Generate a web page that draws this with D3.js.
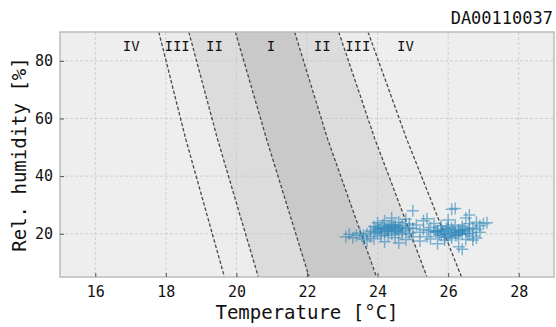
<!DOCTYPE html>
<html>
<head>
<meta charset="utf-8">
<script src="https://cdn.jsdelivr.net/npm/d3@7"></script>
<style>
  body { margin: 0; background: #fff; }
  text { font-family: "DejaVu Sans Mono", monospace; fill: #111; }
</style>
</head>
<body>
<svg width="556" height="327"></svg>
<script>
// comfort zone boundaries: temperature at rh = 90, 53, 5
const boundaryRH = [90, 53, 5];
const boundaries = [
  [17.80, 18.56, 19.66],
  [18.65, 19.46, 20.62],
  [19.97, 20.85, 22.06],
  [21.65, 22.58, 23.97],
  [22.90, 23.92, 25.40],
  [23.73, 24.82, 26.38]
];
const zoneFills = ["#ececec", "#dcdcdc", "#c9c9c9", "#dcdcdc", "#ececec"];
const zoneLabels = ["IV", "III", "II", "I", "II", "III", "IV"];
const zoneLabelX = [17.02, 18.32, 19.38, 20.98, 22.43, 23.44, 24.79];

const xTicks = [16, 18, 20, 22, 24, 26, 28];
const yTicks = [20, 40, 60, 80];

// measured points: temperature and rh
const temps = [
  23.1, 23.2, 23.3, 23.4, 23.5, 23.6, 23.6, 23.7, 23.8, 23.8, 23.9, 23.9, 24.0, 24.0, 24.1, 24.1,
  24.2, 24.2, 24.2, 24.3, 24.3, 24.3, 24.4, 24.4, 24.4, 24.5, 24.5, 24.5, 24.6, 24.6, 24.6, 24.7,
  24.7, 24.8, 24.8, 24.8, 24.9, 24.9, 25.0, 25.0, 25.0, 24.2, 24.4, 24.0, 23.9, 24.3, 24.5, 24.1,
  24.6, 24.7, 23.7, 24.9, 24.35, 24.15, 24.55, 24.25, 24.45, 24.05, 24.65, 23.95,
  25.1, 25.2, 25.2, 25.3, 25.3, 25.4, 25.4, 25.5, 25.5, 25.6, 25.6, 25.7, 25.7, 25.8, 25.8, 25.9,
  25.9, 26.0, 26.0, 26.0, 26.1, 26.1, 26.1, 26.2, 26.2, 26.2, 26.3, 26.3, 26.3, 26.4, 26.4, 26.4,
  26.5, 26.5, 26.5, 26.6, 26.6, 26.6, 26.7, 26.7, 26.8, 26.8, 26.8, 26.9, 26.9, 27.0, 27.1, 26.7,
  25.85, 25.95, 26.05, 25.75, 26.15, 25.65, 26.25, 26.35, 26.45, 26.55, 25.45, 25.9, 26.0, 26.1,
  25.8, 26.2, 26.4, 26.6, 25.7, 26.3
];
const hums = [
  19.0, 19.8, 18.6, 19.4, 20.2, 18.2, 19.5, 17.5, 21.0, 19.0, 22.5, 18.3, 20.5, 23.8, 21.8, 19.2,
  24.5, 20.8, 17.2, 22.5, 21.2, 19.5, 25.5, 23.2, 20.0, 22.0, 21.0, 18.6, 24.0, 20.5, 16.8, 22.8,
  19.8, 25.0, 21.5, 18.0, 23.5, 20.2, 28.0, 21.8, 19.0, 22.0, 21.6, 22.2, 20.6, 20.8, 23.0, 20.0,
  21.9, 21.0, 20.0, 22.0, 22.4, 23.0, 21.4, 21.8, 22.6, 21.4, 22.2, 21.6,
  23.0, 20.5, 17.5, 24.5, 21.5, 19.0, 25.2, 22.2, 18.2, 20.8, 23.6, 16.5, 21.0, 19.5, 22.8, 20.0,
  17.8, 21.5, 24.8, 19.0, 28.5, 22.0, 18.5, 20.5, 28.8, 23.0, 21.2, 15.5, 19.8, 22.5, 20.0, 14.6,
  25.5, 21.0, 18.0, 23.5, 20.2, 26.5, 22.0, 19.2, 24.0, 21.5, 18.5, 22.8, 20.5, 23.5, 23.8, 17.8,
  20.8, 21.8, 20.2, 19.8, 21.0, 20.5, 19.5, 20.8, 21.6, 20.0, 21.2, 18.8, 22.4, 19.6,
  21.2, 19.4, 21.4, 21.8, 20.6, 20.4
];

const svg = d3.select("svg");
const margin = { top: 32, right: 2, bottom: 50, left: 60 };
const W = +svg.attr("width"), H = +svg.attr("height");

const x = d3.scaleLinear().domain([15, 29]).range([margin.left, W - margin.right]);
const y = d3.scaleLinear().domain([5, 90]).range([H - margin.bottom, margin.top]);

svg.append("defs").append("clipPath").attr("id", "clip")
  .append("rect")
  .attr("x", x(15)).attr("y", y(90))
  .attr("width", x(29) - x(15)).attr("height", y(5) - y(90));

// background
svg.append("rect")
  .attr("x", x(15)).attr("y", y(90))
  .attr("width", x(29) - x(15)).attr("height", y(5) - y(90))
  .attr("fill", "#eeeeee");

const plot = svg.append("g").attr("clip-path", "url(#clip)");

// zones between boundaries
const line = d3.line().x(d => x(d[0])).y(d => y(d[1]));
for (let i = 0; i < boundaries.length - 1; i++) {
  const a = boundaries[i].map((t, k) => [t, boundaryRH[k]]);
  const b = boundaries[i + 1].map((t, k) => [t, boundaryRH[k]]).reverse();
  plot.append("path")
    .attr("d", line(a.concat(b)) + "Z")
    .attr("fill", zoneFills[i]);
}

// grid
plot.append("g").selectAll("line").data(xTicks).join("line")
  .attr("x1", d => x(d)).attr("x2", d => x(d))
  .attr("y1", y(90)).attr("y2", y(5))
  .attr("stroke", "#c8c8c8").attr("stroke-width", 0.8).attr("stroke-dasharray", "3,2");
plot.append("g").selectAll("line").data(yTicks).join("line")
  .attr("x1", x(15)).attr("x2", x(29))
  .attr("y1", d => y(d)).attr("y2", d => y(d))
  .attr("stroke", "#c8c8c8").attr("stroke-width", 0.8).attr("stroke-dasharray", "3,2");

// boundary lines
for (const b of boundaries) {
  plot.append("path")
    .attr("d", line(b.map((t, k) => [t, boundaryRH[k]])))
    .attr("fill", "none")
    .attr("stroke", "#4a4a4a")
    .attr("stroke-width", 1.3)
    .attr("stroke-dasharray", "3.5,2");
}

// scatter "+" markers
const pts = temps.map((t, i) => [t, hums[i]]);
const s = 6;
plot.append("g").selectAll("path").data(pts).join("path")
  .attr("d", d => {
    const px = x(d[0]), py = y(d[1]);
    return `M${px - s},${py}H${px + s}M${px},${py - s}V${py + s}`;
  })
  .attr("stroke", "#348ABD")
  .attr("stroke-opacity", 0.6)
  .attr("stroke-width", 1.5)
  .attr("fill", "none");

// zone labels
svg.append("g").selectAll("text").data(zoneLabels).join("text")
  .attr("x", (d, i) => x(zoneLabelX[i]))
  .attr("y", 51)
  .attr("text-anchor", "middle")
  .attr("font-size", 14)
  .text(d => d);

// frame
svg.append("rect")
  .attr("x", x(15)).attr("y", y(90))
  .attr("width", x(29) - x(15)).attr("height", y(5) - y(90))
  .attr("fill", "none").attr("stroke", "#bcbcbc").attr("stroke-width", 1.5);

// axes, ticks point inward
const xAxis = svg.append("g")
  .attr("transform", `translate(0,${y(5)})`)
  .call(d3.axisBottom(x).tickValues(xTicks).tickSizeInner(-4).tickSizeOuter(0).tickPadding(9));
const yAxis = svg.append("g")
  .attr("transform", `translate(${x(15)},0)`)
  .call(d3.axisLeft(y).tickValues(yTicks).tickSizeInner(-4).tickSizeOuter(0).tickPadding(7));
for (const ax of [xAxis, yAxis]) {
  ax.select(".domain").remove();
  ax.selectAll(".tick line").attr("stroke", "#555");
  ax.selectAll(".tick text")
    .attr("font-size", 15)
    .attr("font-family", "DejaVu Sans Mono")
    .attr("fill", "#111");
}

svg.append("text")
  .attr("x", (x(15) + x(29)) / 2).attr("y", 319)
  .attr("text-anchor", "middle").attr("font-size", 19)
  .text("Temperature [°C]");

svg.append("text")
  .attr("transform", `translate(26,${(y(5) + y(90)) / 2}) rotate(-90)`)
  .attr("text-anchor", "middle").attr("font-size", 19)
  .text("Rel. humidity [%]");

svg.append("text")
  .attr("x", 553).attr("y", 24)
  .attr("text-anchor", "end").attr("font-size", 17)
  .text("DA00110037");
</script>
</body>
</html>
